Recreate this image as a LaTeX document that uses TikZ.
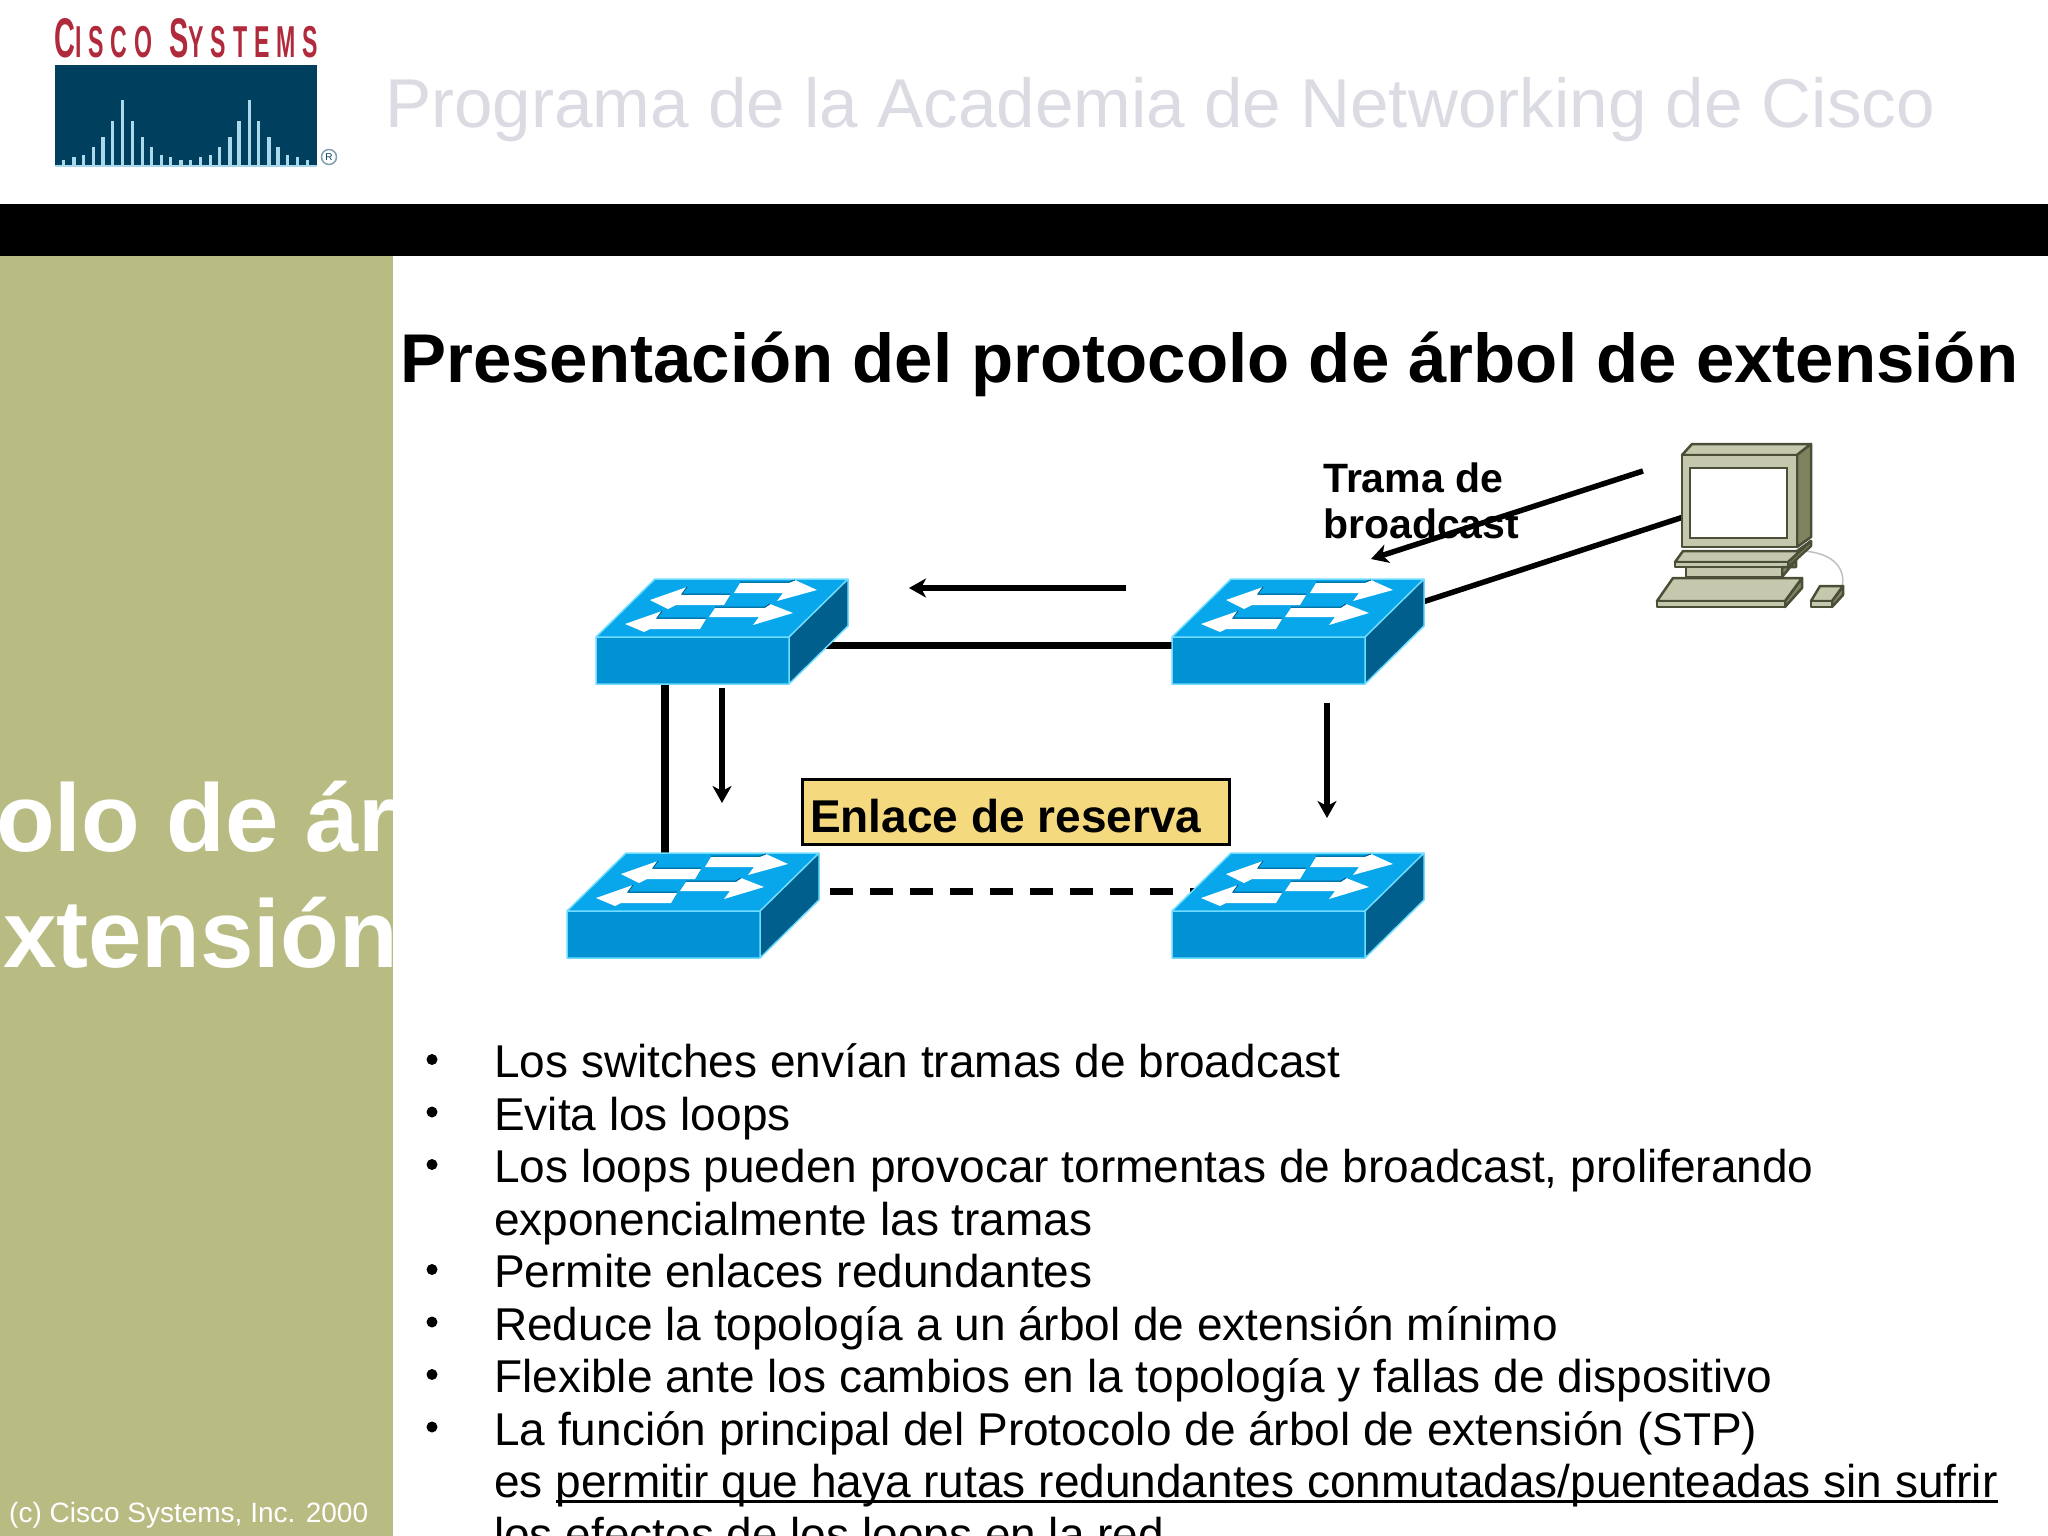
\documentclass[tikz,border=0pt]{standalone}
\usepackage{fontspec}
\setmainfont{Liberation Sans}
\usetikzlibrary{arrows.meta}
\definecolor{panelgreen}{HTML}{B8BC82}
\definecolor{headgray}{HTML}{DBDBE3}
\definecolor{ciscored}{HTML}{B02A3C}
\definecolor{ciscoblue}{HTML}{003F5E}
\definecolor{barblue}{HTML}{A9D9EA}
\definecolor{swtop}{HTML}{08A6EA}
\definecolor{swfront}{HTML}{0092D2}
\definecolor{swside}{HTML}{005F8C}
\definecolor{swedge}{HTML}{70DDFF}
\definecolor{pcbody}{HTML}{C6C8AE}
\definecolor{pcside}{HTML}{80835F}
\definecolor{pcline}{HTML}{4C4F38}
\definecolor{labelfill}{HTML}{F5D97E}
\newsavebox{\ulbox}
\newcommand{\ulined}[1]{\sbox{\ulbox}{#1}\rlap{\rule[-5.5pt]{\wd\ulbox}{2.6pt}}\usebox{\ulbox}}
\tikzset{
  txt/.style={anchor=base west,inner sep=0pt},
  bullet/.style={txt,font=\fontsize{46}{52.4}\selectfont},
  slot/.style={inner sep=0pt,minimum width=252pt,minimum height=105pt},
  slotpc/.style={inner sep=0pt,minimum width=186pt,minimum height=163pt},
  link/.style={line width=7pt,black},
  sendarrow/.style={line width=5.5pt,black,-{Stealth[length=17pt,width=19pt,inset=5pt]}},
  swarrow/.style={fill=white,draw=none},
  pcpart/.style={draw=pcline,line width=2.5pt,line join=round,fill=pcbody},
  pcdark/.style={draw=pcline,line width=2.5pt,line join=round,fill=pcside},
  switchicon/.pic={
    \begin{scope}[shift={(-126,5.5)}]
    \fill[swfront] (0,0) rectangle (193,47);
    \fill[swside] (193,0) -- (252,-58) -- (252,-11) -- (193,47) -- cycle;
    \fill[swtop] (0,0) -- (59,-58) -- (252,-58) -- (193,0) -- cycle;
    \draw[swedge,line width=1.5pt,line join=round] (0,0) -- (59,-58) -- (252,-58) -- (252,-11) -- (193,47) -- (0,47) -- cycle (0,0) -- (193,0) -- (252,-58) (193,0) -- (193,47);
    \fill[swarrow] (54,-37) -- (91,-50) -- (86,-42) -- (134,-42) -- (128,-32) -- (80,-32) -- (72,-28) -- cycle;
    \fill[swarrow] (221,-47) -- (199,-57) -- (193,-54) -- (144,-54) -- (138,-44) -- (187,-44) -- (181,-36) -- cycle;
    \fill[swarrow] (29,-13) -- (66,-26) -- (61,-18) -- (110,-18) -- (104,-8) -- (54,-8) -- (48,-5) -- cycle;
    \fill[swarrow] (197,-24) -- (174,-33) -- (169,-29) -- (119,-29) -- (113,-20) -- (163,-20) -- (157,-12) -- cycle;
    \draw[swside,line width=1pt] (91,-50) -- (86,-43) -- (134,-43) (199,-57) -- (193,-55) -- (144,-55) (66,-26) -- (61,-19) -- (110,-19) (174,-33) -- (169,-30) -- (119,-30);
    \end{scope}
  }
}
\begin{document}
\begin{tikzpicture}[x=1pt,y=-1pt]
\useasboundingbox (0,0) rectangle (2048,1536);
\clip (0,0) rectangle (2048,1536);

% header
\fill[black] (0,204) rectangle (2048,256);
\fill[panelgreen] (0,256) rectangle (393,1536);
\node[txt,headgray,font=\fontsize{69.2}{71}\selectfont] (head) at (385,128) {Programa de la Academia de Networking de Cisco};

% logo
\node[anchor=south west,inner sep=0pt,ciscored] (logotext) at (54,58) {\resizebox{264pt}{39pt}{\addfontfeature{LetterSpace=30}\bfseries C\scalebox{0.8}{ISCO} S\scalebox{0.8}{YSTEMS}}};
\fill[ciscoblue] (55,65) rectangle (317,166);
\foreach \bx/\by in {63.3/160,74/157.3,83.3/155,93.3/147.3,103/137.3,112.7/120.7,122.3/100,132.3/120.7,142.7/137.3,151.3/147.3,161.7/155,170.7/157.3,181/160,190.7/160,200.3/157.3,210.7/155,219.7/147.3,230/137.3,239/120.7,249.3/100,258.7/120.7,269/137.3,278/147.3,287.7/155,297.7/157.3,307.3/160}
  \fill[barblue] (\bx-1.7,\by) rectangle (\bx+1.7,166);
\fill[barblue] (55,165) rectangle (317,166.5);
\node[circle,draw=ciscoblue!50,line width=1.5pt,inner sep=0pt,minimum size=15pt,font=\fontsize{10}{10}\selectfont,text=ciscoblue] (regmark) at (329,157) {R};

% left panel
\begin{scope}
\clip (0,256) rectangle (393,1536);
\node[txt,white,font=\fontsize{96}{96}\bfseries\selectfont] (sideA) at (-4,851) {olo de ár};
\node[txt,white,font=\fontsize{96}{96}\bfseries\selectfont] (sideB) at (3,967) {xtensión};
\end{scope}
\node[txt,white,font=\fontsize{28}{28}\selectfont] (copy) at (9,1522) {(c) Cisco Systems, Inc. 2000};

\node[txt,font=\fontsize{69}{69}\bfseries\selectfont] (title) at (400,382) {Presentación del protocolo de árbol de extensión};

% network
\node[slot] (swA) at (722,631.5) {};
\node[slot] (swB) at (693,905.5) {};
\node[slot] (swC) at (1298,631.5) {};
\node[slot] (swD) at (1298,905.5) {};
\node[slotpc] (pc) at (1750,525.5) {};
\coordinate (leftS) at (1126,588);
\coordinate (leftE) at (909,588);
\coordinate (downAE) at (722,803);
\coordinate (downCS) at (1327,703);
\coordinate (downCE) at (1327,818);
\coordinate (pcS) at (1643,471);
\coordinate (pcE) at (1371,559);

\draw[link] ([yshift=-13.5pt]swA.center) -- ([yshift=-13.5pt]swC.center);
\draw[link,line width=7.5pt] ([xshift=-57pt]swA.south) -- ([xshift=-28pt]swB.north);
\draw[link,dash pattern=on 23pt off 17pt] ([xshift=11pt,yshift=14.5pt]swB.east) -- ([yshift=14.5pt]swD.center);
\draw[link,line width=5.5pt] ([xshift=25pt,yshift=8pt]pc.west) -- ([yshift=30pt]swC.east);

\pic at (swA) {switchicon};
\pic at (swB) {switchicon};
\pic at (swC) {switchicon};
\pic at (swD) {switchicon};

\draw[sendarrow] (leftS) -- (leftE);
\draw[sendarrow] ([yshift=-4pt]swA.south) -- (downAE);
\draw[sendarrow] (downCS) -- (downCE);

% computer
\draw[line width=1.5pt,gray!50] (1803,551) .. controls (1835,553) and (1846,570) .. (1842,587);
\fill[pcbody] (1682,455) rectangle (1797,547);
\draw[pcpart] (1682,455) -- (1692,444) -- (1811,444) -- (1797,455) -- cycle;
\draw[pcdark] (1797,455) -- (1811,444) -- (1811,537) -- (1797,547) -- cycle;
\draw[pcdark] (1788,562) -- (1811,541) -- (1811,546) -- (1788,567) -- cycle;
\draw[pcpart] (1683,551) -- (1797,551) -- (1811,541) -- (1788,562) -- (1675,562) -- cycle;
\draw[pcpart] (1675,562) rectangle (1788,567);
\draw[pcdark] (1782,567) -- (1796,567) -- (1796,560) -- (1782,577) -- cycle;
\draw[pcpart] (1686,567) rectangle (1782,577);
\draw[pcdark] (1785,601) -- (1802,578) -- (1802,588) -- (1785,607) -- cycle;
\draw[pcpart] (1673,578) -- (1802,578) -- (1785,601) -- (1657,601) -- cycle;
\draw[pcpart] (1657,601) rectangle (1785,607);
\draw[pcdark] (1832,601) -- (1843,586) -- (1843,595) -- (1832,607) -- cycle;
\draw[pcpart] (1820,586) -- (1843,586) -- (1832,601) -- (1811,601) -- cycle;
\draw[pcpart] (1811,601) rectangle (1832,607);
\draw[pcpart] (1682,455) rectangle (1797,547);
\draw[draw=pcline,line width=2.5pt,fill=white] (1690,468) rectangle (1787,538);

% labels
\node[txt,font=\fontsize{41}{46}\bfseries\selectfont] (tramaA) at (1323,492) {Trama de};
\node[txt,font=\fontsize{41}{46}\bfseries\selectfont] (tramaB) at (1323,538) {broadcast};
\draw[sendarrow] (pcS) -- (pcE);
\node[draw=black,line width=3pt,fill=labelfill,minimum width=427pt,minimum height=65pt,inner sep=0pt] (backup) at (1016,811.5) {};
\node[txt,font=\fontsize{46}{46}\bfseries\selectfont] (backuptxt) at (810,832) {Enlace de reserva};

% bullets
\foreach \ny/\ntxt in {1/{Los switches envían tramas de broadcast},2/{Evita los loops},3/{Los loops pueden provocar tormentas de broadcast, proliferando},5/{Permite enlaces redundantes},6/{Reduce la topología a un árbol de extensión mínimo},7/{Flexible ante los cambios en la topología y fallas de dispositivo},8/{La función principal del Protocolo de árbol de extensión (STP)}}{
  \node[bullet] (item\ny) at (494,1025+52.5*\ny) {\ntxt};
  \fill[black] (432,1007+52.5*\ny) circle (5.5pt);
}
\node[bullet] (item4) at (494,1025+52.5*4) {exponencialmente las tramas};
\node[bullet] (item9) at (494,1025+52.5*9) {es \ulined{permitir que haya rutas redundantes conmutadas/puenteadas sin sufrir}};
\node[bullet] (item10) at (494,1025+52.5*10) {los efectos de los loops en la red};
\end{tikzpicture}
\end{document}
